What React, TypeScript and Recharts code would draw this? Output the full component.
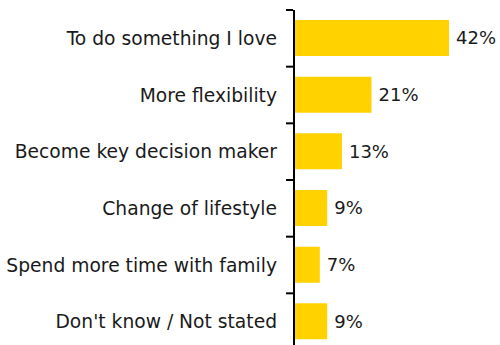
import React from 'react';
import { BarChart, Bar, XAxis, YAxis, LabelList } from 'recharts';

const categories = [
    'To do something I love',
    'More flexibility',
    'Become key decision maker',
    'Change of lifestyle',
    'Spend more time with family',
    "Don't know / Not stated",
];
const shares = [42, 21, 13, 9, 7, 9];

const data = categories.map((name, i) => ({ name, value: shares[i] }));

const FONT = 'DejaVu Sans, Verdana, sans-serif';
const CHART_H = 350;
const TOP = 10;
const AXIS_X = 293;
const BAND = (CHART_H - TOP) / categories.length;

// label on the left plus a small tick at the top edge of each band
const CategoryTick = ({ y, payload }: any) => (
    <g>
        <line x1={AXIS_X - 7} x2={AXIS_X} y1={y - BAND / 2} y2={y - BAND / 2} stroke="#000" strokeWidth={2} />
        <text x={AXIS_X - 16} y={y} dy={6.5} textAnchor="end" fontSize={18.7} fontFamily={FONT} fill="#1a1a1a">
            {payload.value}
        </text>
    </g>
);

export default function App() {
    return (
        <div style={{ position: 'absolute', left: 0, top: 0, width: 500, height: 345, overflow: 'hidden', background: '#fff' }}>
            <BarChart
                width={500}
                height={CHART_H}
                data={data}
                layout="vertical"
                margin={{ top: TOP, right: 51, bottom: 0, left: 0 }}
                barCategoryGap={0}
            >
                <XAxis type="number" domain={[0, 42]} hide />
                <YAxis
                    type="category"
                    dataKey="name"
                    width={294}
                    axisLine={{ stroke: '#000', strokeWidth: 2 }}
                    tickLine={false}
                    tick={<CategoryTick />}
                    interval={0}
                />
                <Bar dataKey="value" fill="#FFD200" barSize={36} isAnimationActive={false}>
                    <LabelList
                        dataKey="value"
                        position="right"
                        offset={7}
                        formatter={(v: any) => `${v}%`}
                        style={{ fontSize: 18, fontFamily: FONT, fill: '#1a1a1a' }}
                    />
                </Bar>
            </BarChart>
        </div>
    );
}
